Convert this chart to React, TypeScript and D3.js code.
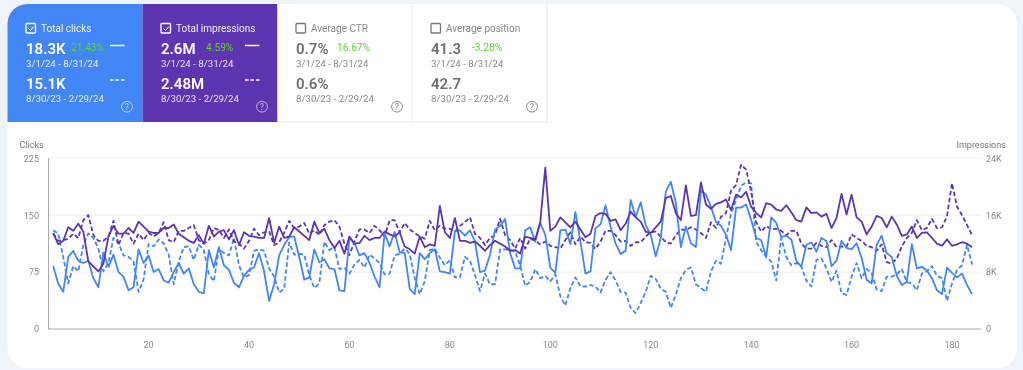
import React from "react";
import * as d3 from "d3";

const clicksCurrent = [83,60,49,95,103,90,87,90,67,55,101,82,98,75,69,51,55,105,87,97,75,79,64,61,75,87,73,80,59,49,47,104,81,108,84,78,61,55,70,78,81,100,76,37,59,97,111,121,122,95,65,68,105,88,92,80,79,51,50,120,113,97,100,87,69,55,126,109,128,101,100,53,46,100,92,100,105,76,75,73,129,130,123,130,115,75,77,98,131,136,145,100,80,80,130,134,115,140,124,81,74,130,131,112,154,115,73,76,133,138,163,135,113,99,103,170,148,167,137,124,96,120,181,194,166,108,135,113,108,183,177,161,141,136,124,104,160,160,164,144,120,117,95,147,140,121,123,118,90,82,111,114,102,120,116,83,90,116,107,105,113,94,65,60,111,123,100,95,70,58,62,112,80,82,77,67,51,46,81,74,68,73,58,46];
const clicksPrevious = [130,126,95,60,83,76,111,126,120,106,76,87,120,113,97,95,89,49,65,112,109,118,113,98,59,89,108,109,91,111,104,72,63,106,100,97,120,84,68,71,103,105,103,80,69,48,53,114,98,99,98,71,54,60,115,104,108,79,81,73,85,91,81,98,93,87,72,73,97,99,106,99,67,46,63,104,106,94,84,91,68,68,95,90,71,50,73,59,59,105,105,104,102,84,57,62,79,67,70,63,72,43,31,54,68,56,56,58,56,48,65,75,64,49,48,28,21,34,49,70,66,53,49,28,45,67,78,81,59,54,49,76,90,86,120,152,170,189,193,192,115,104,95,89,64,120,95,84,87,82,64,56,91,93,80,62,77,47,45,69,87,67,79,74,52,50,69,69,72,79,62,60,51,73,76,83,70,67,37,60,78,84,111,85];
const impressionsCurrent = [13.5,11.9,12.4,14.3,13.8,14.8,13.7,9.5,8.8,8.1,9.2,13,14.5,13.4,13.4,14.2,13.5,15.1,14.4,13.7,13.5,13.5,14.2,14.2,14.7,13.4,12.9,12.4,12.1,13.2,12,14.5,13,13.7,13.9,12.6,13.9,11.8,13.6,13.1,13,12.8,12.8,15.6,12.1,14.4,12.8,13,14.3,13.7,13.1,12.5,15.1,13.5,14.1,12.5,11.4,12.4,10.6,13,12,12.1,13.1,12.5,12.8,12.8,13.7,13.3,13,13.6,11.6,11.2,10.6,13,11.5,11.9,11.7,17.3,13.6,12.8,15.6,12.4,12.4,12.1,12.3,11.7,11,11.8,12.4,12,11.6,11,11.1,10.6,13,12.8,12.6,15,22.7,13.8,14.4,15.7,15,14.3,15.1,14,12.9,13.4,15.9,16.3,16.2,15.2,15.4,13.9,14.8,16.5,15.7,15.1,13.7,13.5,14.3,15.1,18.4,18.7,16.3,15.3,20.2,15.9,16,20.6,17.5,16.9,17.6,17.8,18.2,16.7,18.9,18.5,19.3,17.2,16.3,15.7,17.7,17.5,16.8,16.6,17.4,16.4,15.3,15.1,17.1,16.3,16.4,15.8,16.2,14.2,15.6,19,16.1,18.9,15.7,15.1,13.3,14.4,15.9,15.6,14.3,15.8,14.7,13.1,13.3,14.4,12.8,13.5,13.6,12.8,12,11.7,12.6,11.7,11.9,12.2,12,11.5];
const impressionsPrevious = [13.4,12.4,12.5,12.7,13.4,12.8,15.3,16,13.2,12.4,12.4,13,15.2,11.8,13.5,13.4,12,13.4,12.5,13.5,13,13.5,15,12.5,12.2,13.8,13.8,14.2,14.6,12.5,12,12.5,14.2,13.9,12.8,14,12.3,12,11.3,12.4,14.1,13.2,13.6,13.7,11.8,12.2,13.5,15.2,14.2,14.4,14.9,13.4,13.9,13.2,14.6,15.1,15.3,14.4,12,10.4,12.3,14,14,13.5,14.5,13.9,13,15.3,15.3,13.6,14.9,14,13.5,13,12.7,15.2,13.9,14.5,14.1,14.1,13.7,14.5,15,15.7,13.4,12.8,11.8,12.8,13.2,15.5,13.2,12.5,11.3,12.8,11.3,12.7,12.4,11.9,12.3,11.7,11.5,11.3,12.5,13.6,11.9,13,12.2,12.1,11.25,12.3,13.8,13.8,13.2,12.3,12.4,11.7,12.2,12.2,13,13.6,13.7,13,12.2,12,13.2,14,13.9,14.3,14,13.5,12.8,15,14.2,15.8,16.3,19.5,20.25,23.1,22.4,19.3,15,13.7,14.5,14,14.1,13.8,13.2,13.8,13.8,12,11.3,11.3,12.1,11.7,11.5,12.5,11.5,11.6,11.6,13.3,12.8,12.4,11.7,11.5,11,11.9,9.4,9.2,9.9,11.6,12.8,13.5,15.3,13.9,14.2,15.5,14.2,14.3,15.8,20.5,17.2,16,14.6,13.2];

const xTicks = [20,40,60,80,100,120,140,160,180];
const clickTicks = [0,75,150,225];
const impressionTicks = [0,8,16,24];

const tiles = [
  { label: "Total clicks", v1: "18.3K", delta: "21.43%", deltaX: 63.5, v2: "15.1K", fill: "#4285f4", on: true },
  { label: "Total impressions", v1: "2.6M", delta: "4.59%", deltaX: 63.5, v2: "2.48M", fill: "#5e35b1", on: true },
  { label: "Average CTR", v1: "0.7%", delta: "16.67%", deltaX: 59.5, v2: "0.6%", fill: "#ffffff", on: false },
  { label: "Average position", v1: "41.3", delta: "-3.28%", deltaX: 59.5, v2: "42.7", fill: "#ffffff", on: false },
];

const FONT = "Roboto, sans-serif";
const BLUE = "#4285f4";
const PURPLE = "#5e35b1";
const TW = 135;

function Tile({ t, i }: { t: (typeof tiles)[number]; i: number }) {
  const x0 = 7.5 + i * TW;
  const main = t.on ? "#ffffff" : "#6f6f6f";
  const sub = t.on ? "rgba(255,255,255,0.85)" : "#8a8a8a";
  const path = i === 0
    ? `M${x0},122 V24 A20,20 0 0 1 ${x0 + 20},4 H${x0 + TW} V122 Z`
    : `M${x0},4 H${x0 + TW} V122 H${x0} Z`;
  return (
    <g fontFamily={FONT}>
      <path d={path} fill={t.fill} />
      {!t.on && <path d={`M${x0 + TW - 0.5},4 V122 M${x0},122 H${x0 + TW}`} stroke="#e4e4e4" fill="none" />}
      <rect x={x0 + 18.5} y={23.5} width={9.5} height={9.5} rx={1} fill="none" stroke={t.on ? "#fff" : "#777"} strokeWidth={1.3} />
      {t.on && <path d={`M${x0 + 21},28.5 l2,2 l3.4,-4`} fill="none" stroke="#fff" strokeWidth={1} />}
      <text x={x0 + 33.5} y={31.5} fontSize={10} fill={t.on ? "rgba(255,255,255,0.9)" : "#8a8a8a"}>{t.label}</text>
      <text x={x0 + 18.5} y={53.5} fontSize={15} fontWeight={600} fill={main}>{t.v1}</text>
      <text x={x0 + t.deltaX} y={50.5} fontSize={10.2} fill="#5fd22f">{t.delta}</text>
      <text x={x0 + 18.5} y={67.3} fontSize={9.7} fill={sub}>3/1/24 - 8/31/24</text>
      <text x={x0 + 18.5} y={88.7} fontSize={15} fontWeight={600} fill={main}>{t.v2}</text>
      <text x={x0 + 18.5} y={101.8} fontSize={9.7} fill={sub}>8/30/23 - 2/29/24</text>
      {t.on && <path d={`M${x0 + 102.5},45.5 H${x0 + 117}`} stroke="#fff" strokeWidth={1.5} />}
      {t.on && <path d={`M${x0 + 102.5},80 H${x0 + 117}`} stroke="#fff" strokeWidth={1.5} strokeDasharray="3.5 2" />}
      <circle cx={x0 + 119.5} cy={106.7} r={5.4} fill="none" stroke={t.on ? "rgba(255,255,255,0.6)" : "#888"} strokeWidth={1} />
      <text x={x0 + 119.5} y={110} fontSize={9} textAnchor="middle" fill={t.on ? "rgba(255,255,255,0.6)" : "#888"}>?</text>
    </g>
  );
}

export default function App() {
  const x = d3.scaleLinear().domain([20, 180]).range([148.6, 952]);
  const yC = d3.scaleLinear().domain([0, 225]).range([329, 158.3]);
  const yI = d3.scaleLinear().domain([0, 24]).range([329, 158.3]);
  const lineC = d3.line<number>().x((_, i) => x(i + 1)).y((d) => yC(d));
  const lineI = d3.line<number>().x((_, i) => x(i + 1)).y((d) => yI(d));

  return (
    <svg width={1023} height={370} style={{ position: "fixed", left: 0, top: 0, display: "block", filter: "blur(0.3px)" }}>
      <rect width={1023} height={370} fill="#eff3fa" />
      <rect x={7.5} y={4} width={1009.5} height={364} rx={20} fill="#ffffff" />
      {tiles.map((t, i) => <Tile key={t.label} t={t} i={i} />)}

      {clickTicks.slice(1).map((t) => (
        <line key={t} x1={48.5} x2={981} y1={yC(t)} y2={yC(t)} stroke="#efefef" strokeWidth={1} />
      ))}
      <line x1={48.5} x2={48.5} y1={158.3} y2={329} stroke="#a8a8a8" />
      <line x1={48.5} x2={981} y1={329} y2={329} stroke="#a8a8a8" />

      <g fontFamily={FONT} fontSize={9} fill="#8a8a8a">
        {clickTicks.map((t) => <text key={t} x={39} y={yC(t) + 3.3} textAnchor="end">{t}</text>)}
        {impressionTicks.map((t) => <text key={t} x={986} y={yI(t) + 3.3}>{t === 0 ? "0" : `${t}K`}</text>)}
        {xTicks.map((t) => <text key={t} x={x(t)} y={348} textAnchor="middle">{t}</text>)}
        <text x={19.5} y={148} fill="#777">Clicks</text>
        <text x={956.5} y={148} fill="#777">Impressions</text>
      </g>

      <g fill="none" strokeWidth={1.8} strokeLinejoin="round">
        <path d={lineC(clicksPrevious) ?? ""} stroke={BLUE} strokeDasharray="4.5 2.5" />
        <path d={lineI(impressionsPrevious) ?? ""} stroke={PURPLE} strokeDasharray="4.5 2.5" />
        <path d={lineC(clicksCurrent) ?? ""} stroke={BLUE} />
        <path d={lineI(impressionsCurrent) ?? ""} stroke={PURPLE} />
      </g>
    </svg>
  );
}
